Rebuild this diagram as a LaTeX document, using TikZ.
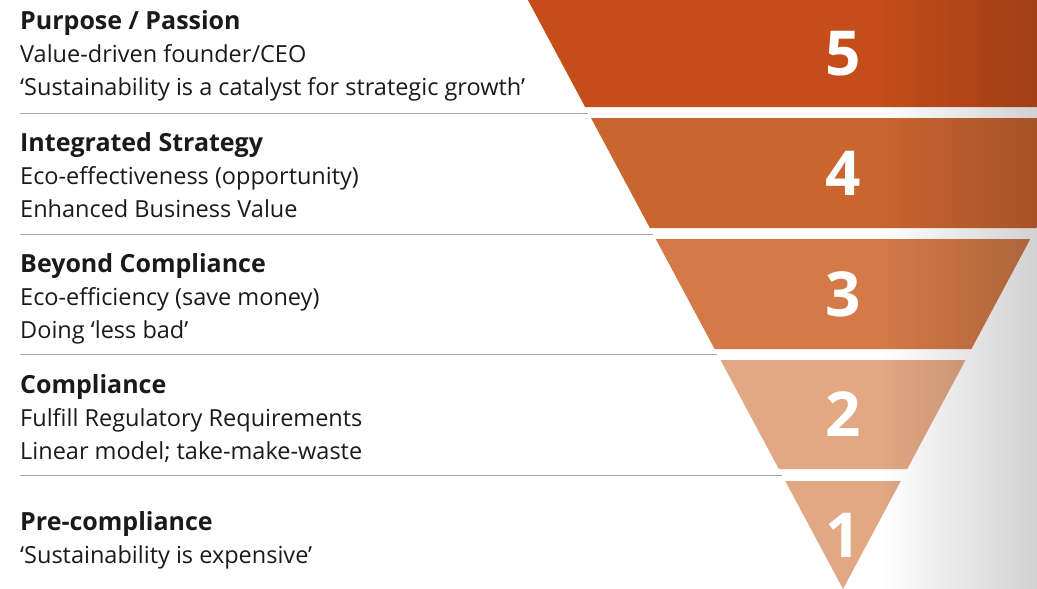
\documentclass[tikz,border=0pt]{standalone}
\usepackage{fontspec}
\setmainfont{Open Sans}
\usetikzlibrary{positioning}
\definecolor{bandfive}{HTML}{C44D1A}
\definecolor{bandfour}{HTML}{CA6530}
\definecolor{bandthree}{HTML}{D47A48}
\definecolor{bandtwo}{HTML}{E2A783}
\definecolor{bandone}{HTML}{E2A783}
\definecolor{textgray}{HTML}{1A1A1A}
\definecolor{rulegray}{HTML}{A3A7AB}
\newcommand{\levelhead}[1]{{\fontsize{25}{33}\selectfont\bfseries #1}}

\begin{document}
\begin{tikzpicture}[x=1pt, y=-1pt,
    levelnum/.style={text=white, font=\fontsize{62}{62}\selectfont\bfseries, inner sep=0},
    leveltext/.style={anchor=north west, align=left, inner sep=0, text=textgray, font=\fontsize{23.5}{33}\selectfont}]
  \useasboundingbox (0,0) rectangle (1037,589);
  % bands of the funnel, apex at (843,589)
  \foreach \n/\t/\b/\c in {5/0/107/bandfive, 4/118/228/bandfour, 3/239/349/bandthree, 2/360/469/bandtwo, 1/481/589/bandone}{
    \fill[\c] ({843-0.535*(589-\t)},\t) -- ({843+0.535*(589-\t)},\t)
      -- ({843+0.535*(589-\b)},\b) -- ({843-0.535*(589-\b)},\b) -- cycle;
    \node[levelnum] (n\n) at (843,{(\t+\b)/2}) {\n};
  }
  % grey fade on the right
  \shade[left color=white, right color=black!18, blend mode=multiply] (880,0) rectangle (1037,589);
  % separators
  \foreach \y in {113,234,354,475}{
    \coordinate (l\y) at (20,\y);
    \coordinate (r\y) at ({843-0.535*(589-\y)},\y);
    \draw[rulegray, line width=1pt] (l\y) -- (r\y);
  }
  \node[leveltext] (t5) at (20,10) {\levelhead{Purpose / Passion}\\Value-driven founder/CEO\\‘Sustainability is a catalyst for strategic growth’};
  \node[leveltext] (t4) at (20,132) {\levelhead{Integrated Strategy}\\Eco-effectiveness (opportunity)\\Enhanced Business Value};
  \node[leveltext] (t3) at (20,253) {\levelhead{Beyond Compliance}\\Eco-efficiency (save money)\\Doing ‘less bad’};
  \node[leveltext] (t2) at (20,374) {\levelhead{Compliance}\\Fulfill Regulatory Requirements\\Linear model; take-make-waste};
  \node[leveltext] (t1) at (20,511) {\levelhead{Pre-compliance}\\‘Sustainability is expensive’};
\end{tikzpicture}
\end{document}
